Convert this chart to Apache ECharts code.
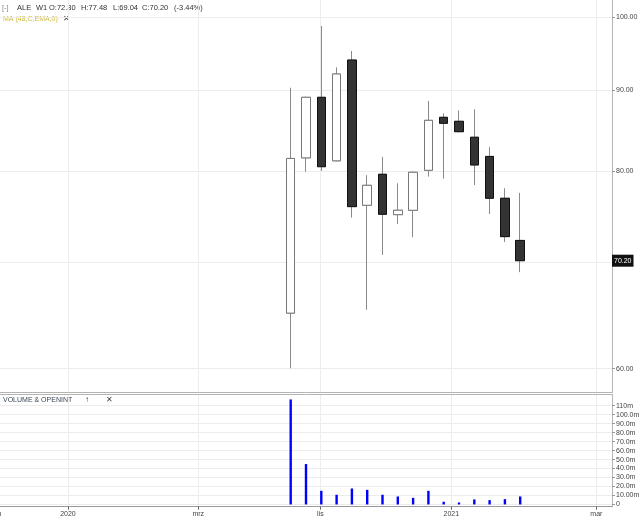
<!DOCTYPE html>
<html><head><meta charset="utf-8">
<script src="https://cdn.jsdelivr.net/npm/echarts@6/dist/echarts.min.js"></script>
<style>html,body{margin:0;padding:0;background:#fff}#c{width:640px;height:521px}</style>
</head><body><div id="c"></div>
<script>
// ---- data (weekly, ALE) ----
const weeks   = ['2020-10-12','2020-10-19','2020-10-26','2020-11-02','2020-11-09','2020-11-16','2020-11-23','2020-11-30',
                 '2020-12-07','2020-12-14','2020-12-21','2020-12-28','2021-01-04','2021-01-11','2021-01-18','2021-01-25'];
const opens   = [65.05, 81.52, 89.02, 81.17, 93.98, 76.09, 79.60, 75.06, 75.54, 80.06, 86.47, 85.97, 84.00, 81.69, 76.87, 72.30];
const closes  = [81.45, 89.02, 80.48, 92.09, 75.94, 78.33, 75.10, 75.54, 79.83, 86.09, 85.72, 84.68, 80.68, 76.87, 72.70, 70.20];
const lows    = [60.04, 79.89, 79.98, 81.10, 74.74, 65.36, 70.79, 74.06, 72.63, 79.33, 79.10, 84.60, 78.37, 75.13, 72.13, 69.04];
const highs   = [90.27, 89.10, 98.74, 92.98, 95.22, 79.49, 81.64, 78.56, 79.90, 88.55, 86.97, 87.35, 87.48, 82.80, 78.00, 77.48];
const volumes = [117, 45, 15.2, 10.8, 17.8, 16.3, 10.8, 8.9, 7.4, 15.2, 3.0, 2.2, 5.6, 4.8, 5.9, 8.9]; // millions

const priceTicks       = [60, 70, 80, 90, 100];
const priceLabelTicks  = [60, 80, 90, 100];
const volumeTicks      = [0, 10, 20, 30, 40, 50, 60, 70, 80, 90, 100, 110];
const volumeTickLabels = ['0','10.00m','20.0m','30.0m','40.0m','50.0m','60.0m','70.0m','80.0m','90.0m','100.0m','110m'];
const timeTickPos      = [-19.26, -14.56, -6.04, 1.94, 10.5, 19.98]; // in weeks relative to first bar
const timeTickLabels   = ['gru', '2020', 'mrz', 'lis', '2021', 'mar'];

// ---- build ----
const L = Math.log10;
const n = opens.length;
const last = n - 1;
const candleData = opens.map((o, i) => [i, L(o), L(closes[i]), L(lows[i]), L(highs[i])]);
const bodyData = opens.map((o, i) => [i, L(o), L(closes[i]), L(Math.min(o, closes[i])), L(Math.max(o, closes[i]))]);
const volData = volumes.map((v, i) => [i, v]);
const chg = (closes[last] - closes[last - 1]) / closes[last - 1] * 100;

const FONT = 'Liberation Sans, Arial, sans-serif';
const xMin = -21.6, xMax = 21;
const pxPerWeek = 15.3;
const gridRight = 28;
const gridLeft = 640 - gridRight - (xMax - xMin) * pxPerWeek;

function nearestLabel(v, pos, labels) {
  let b = 0; for (let i = 1; i < pos.length; i++) if (Math.abs(pos[i] - v) < Math.abs(pos[b] - v)) b = i;
  return labels[b];
}

const gridLineColor = '#ececec';
const axisLineColor = '#b4b4b4';

const chart = echarts.init(document.getElementById('c'), null, {renderer: 'canvas'});
chart.setOption({
  animation: false,
  backgroundColor: '#fff',
  textStyle: {fontFamily: FONT},
  grid: [
    {left: gridLeft, right: gridRight, top: 0, height: 392.5, outerBoundsMode: 'none'},
    {left: gridLeft, right: gridRight, top: 394.5, height: 112.2, outerBoundsMode: 'none'}
  ],
  xAxis: [
    {type: 'value', gridIndex: 0, min: xMin, max: xMax, position: 'bottom',
      axisLine: {show: true, onZero: false, lineStyle: {color: axisLineColor}},
      axisTick: {show: false, customValues: timeTickPos}, axisLabel: {show: false, customValues: timeTickPos},
      splitLine: {show: true, lineStyle: {color: gridLineColor}}},
    {type: 'value', gridIndex: 1, min: xMin, max: xMax, position: 'bottom',
      axisLine: {show: true, onZero: false, lineStyle: {color: '#999'}},
      axisTick: {show: true, length: 3, lineStyle: {color: '#666'}, customValues: timeTickPos},
      axisLabel: {show: true, customValues: timeTickPos, fontSize: 7, color: '#444', margin: 4, fontFamily: FONT,
        formatter: v => nearestLabel(v, timeTickPos, timeTickLabels)},
      splitLine: {show: true, lineStyle: {color: gridLineColor}}},
    {type: 'value', gridIndex: 1, min: xMin, max: xMax, position: 'top',
      axisLine: {show: true, onZero: false, lineStyle: {color: axisLineColor}},
      axisTick: {show: false}, axisLabel: {show: false}, splitLine: {show: false}}
  ],
  yAxis: [
    {type: 'value', gridIndex: 0, position: 'right', min: 1.76313, max: 2.01092,
      axisLine: {show: true, onZero: false, lineStyle: {color: axisLineColor, width: 1}},
      axisTick: {show: true, length: 3, lineStyle: {color: '#999'}, customValues: priceTicks.map(L)},
      axisLabel: {show: true, customValues: priceLabelTicks.map(L), fontSize: 7, color: '#444', margin: 4, fontFamily: FONT,
        formatter: v => Math.pow(10, v).toFixed(2)},
      splitLine: {show: true, lineStyle: {color: gridLineColor}}},
    {type: 'value', gridIndex: 0, position: 'right', min: 1.76313, max: 2.01092,
      axisLine: {show: false, onZero: false}, axisTick: {show: false}, splitLine: {show: false},
      axisLabel: {show: true, customValues: [L(closes[last])], margin: 0, fontSize: 7, color: '#fff', fontFamily: FONT,
        backgroundColor: '#111', padding: [3, 2, 2, 2],
        formatter: () => closes[last].toFixed(2)}},
    {type: 'value', gridIndex: 1, position: 'right', min: -2.5, max: 122.5,
      axisLine: {show: true, onZero: false, lineStyle: {color: axisLineColor}},
      axisTick: {show: true, length: 3, lineStyle: {color: '#999'}, customValues: volumeTicks},
      axisLabel: {show: true, customValues: volumeTicks, fontSize: 7, color: '#444', margin: 4, fontFamily: FONT,
        formatter: v => nearestLabel(v, volumeTicks, volumeTickLabels)},
      splitLine: {show: true, lineStyle: {color: gridLineColor}}}
  ],
  series: [
    {type: 'candlestick', xAxisIndex: 0, yAxisIndex: 0, data: candleData, encode: {x: 0, y: [1, 2, 3, 4]},
      barWidth: 9,
      itemStyle: {color: '#ffffff', color0: '#333333', borderColor: '#8a8a8a', borderColor0: '#8a8a8a', borderWidth: 1}},
    {type: 'candlestick', xAxisIndex: 0, yAxisIndex: 0, data: bodyData, encode: {x: 0, y: [1, 2, 3, 4]},
      barWidth: 9,
      itemStyle: {color: '#ffffff', color0: '#333333', borderColor: '#777777', borderColor0: '#111111', borderWidth: 1}},
    {type: 'bar', xAxisIndex: 1, yAxisIndex: 2, data: volData, barWidth: 2.4,
      itemStyle: {color: '#0000ff'}}
  ],
  graphic: [
    {type: 'text', left: 2, top: 4, style: {text: '[-]', fill: '#888', font: '7.5px ' + FONT}},
    {type: 'text', left: 17, top: 4, style: {text: 'ALE', fill: '#333', font: '7.5px ' + FONT}},
    {type: 'text', left: 36, top: 4, style: {text: 'W1', fill: '#333', font: '7.5px ' + FONT}},
    {type: 'text', left: 49, top: 4, style: {text: 'O:' + opens[last].toFixed(2), fill: '#333', font: '7.5px ' + FONT}},
    {type: 'text', left: 81, top: 4, style: {text: 'H:' + highs[last].toFixed(2), fill: '#333', font: '7.5px ' + FONT}},
    {type: 'text', left: 113, top: 4, style: {text: 'L:' + lows[last].toFixed(2), fill: '#333', font: '7.5px ' + FONT}},
    {type: 'text', left: 142, top: 4, style: {text: 'C:' + closes[last].toFixed(2), fill: '#333', font: '7.5px ' + FONT}},
    {type: 'text', left: 174, top: 4, style: {text: '(' + chg.toFixed(2) + '%)', fill: '#333', font: '7.5px ' + FONT}},
    {type: 'text', left: 3, top: 16, style: {text: 'MA (48,C,EMA,0)', fill: '#cdb93a', font: '7px ' + FONT}},
    {type: 'text', left: 63, top: 15, style: {text: '✕', fill: '#444', font: '8px ' + FONT}},
    {type: 'text', left: 3, top: 397, style: {text: 'VOLUME & OPENINT', fill: '#3a4856', font: '7px ' + FONT}},
    {type: 'text', left: 85, top: 396, style: {text: '↑', fill: '#444', font: '8px ' + FONT}},
    {type: 'text', left: 106, top: 396, style: {text: '✕', fill: '#444', font: '8px ' + FONT}}
  ]
});
</script></body></html>
